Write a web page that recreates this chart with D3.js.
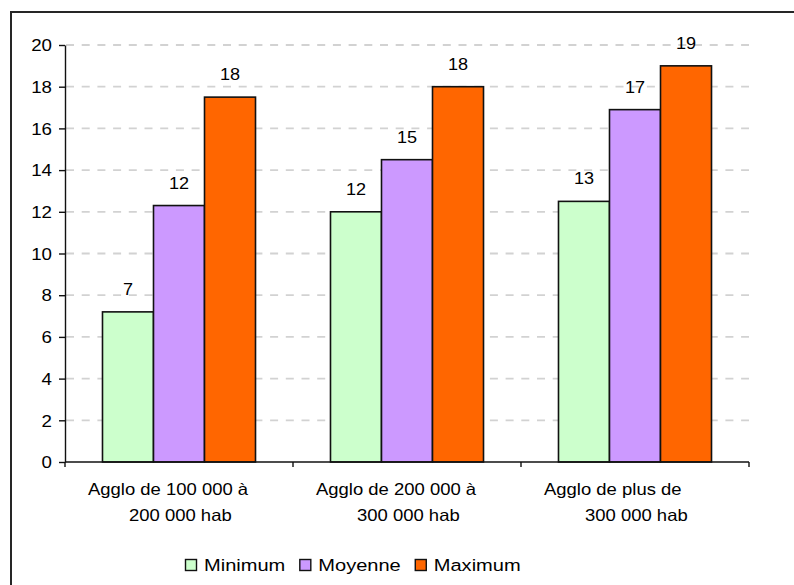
<!DOCTYPE html>
<html>
<head>
<meta charset="utf-8">
<script src="https://cdn.jsdelivr.net/npm/d3@7"></script>
<style>
  html, body { margin: 0; padding: 0; background: #fff; }
  svg { display: block; }
  text { font-family: "Liberation Sans", Arial, sans-serif; fill: #000; }
</style>
</head>
<body>
<svg id="chart" width="794" height="585"></svg>
<script>
// Categories (each label split on its line break)
const categories = ["g1", "g2", "g3"];
const categoryLines = [
  ["Agglo de 100 000 à", "200 000 hab"],
  ["Agglo de 200 000 à", "300 000 hab"],
  ["Agglo de plus de", "300 000 hab"]
];

// Series
const seriesNames = ["Minimum", "Moyenne", "Maximum"];
const minimumValues = [7.2, 12.0, 12.5];
const moyenneValues = [12.3, 14.5, 16.9];
const maximumValues = [17.5, 18.0, 19.0];
const seriesColors = ["#CCFFCC", "#CC99FF", "#FF6600"];

// Y axis ticks
const yTicks = [0, 2, 4, 6, 8, 10, 12, 14, 16, 18, 20];

const seriesValues = [minimumValues, moyenneValues, maximumValues];

const svg = d3.select("#chart");
const W = 794, H = 585;
const plot = { left: 65, right: 749, top: 45, bottom: 462 };

// Outer frame (runs past the right and bottom edges)
svg.append("rect")
  .attr("x", 11).attr("y", 12)
  .attr("width", W + 20).attr("height", H + 20)
  .attr("fill", "#fff")
  .attr("stroke", "#262626")
  .attr("stroke-width", 2);

const y = d3.scaleLinear().domain([0, 20]).range([plot.bottom, plot.top]);
const x = d3.scaleBand().domain(categories).range([plot.left, plot.right])
  .paddingInner(0).paddingOuter(0);
const xSub = d3.scaleBand().domain(seriesNames).range([0, x.bandwidth()])
  .paddingInner(0).paddingOuter(0.735);

// Dashed gridlines
svg.append("g")
  .selectAll("line")
  .data(yTicks.filter(t => t > 0))
  .join("line")
  .attr("x1", plot.left + 1).attr("x2", plot.right)
  .attr("y1", d => y(d)).attr("y2", d => y(d))
  .attr("stroke", "#d2d2d2")
  .attr("stroke-width", 1.8)
  .attr("stroke-dasharray", "8,7.7");

// Bars
const barData = [];
categories.forEach((c, i) => {
  seriesNames.forEach((s, j) => {
    barData.push({ cat: c, series: s, value: seriesValues[j][i], color: seriesColors[j] });
  });
});

const bars = svg.append("g");
bars.selectAll("rect")
  .data(barData)
  .join("rect")
  .attr("x", d => x(d.cat) + xSub(d.series))
  .attr("y", d => y(d.value))
  .attr("width", xSub.bandwidth())
  .attr("height", d => y(0) - y(d.value))
  .attr("fill", d => d.color)
  .attr("stroke", "#111")
  .attr("stroke-width", 1.6);

// Value labels above bars
bars.selectAll("text")
  .data(barData)
  .join("text")
  .attr("text-anchor", "middle")
  .attr("font-size", 16)
  .attr("transform", d =>
    `translate(${x(d.cat) + xSub(d.series) + xSub.bandwidth() / 2},${y(d.value) - 17}) scale(1.13,1)`)
  .text(d => d3.format(".0f")(Math.round(d.value)));

// Y axis
const yAxis = svg.append("g")
  .attr("transform", `translate(${plot.left},0)`)
  .call(d3.axisLeft(y).tickValues(yTicks).tickSize(6).tickSizeOuter(0));
yAxis.select(".domain").attr("stroke", "#111").attr("stroke-width", 1.4);
yAxis.selectAll(".tick line").attr("stroke", "#111").attr("stroke-width", 1.4);
yAxis.selectAll(".tick text")
  .attr("x", null).attr("dy", "0.36em")
  .attr("font-size", 16)
  .attr("font-family", null)
  .attr("fill", "#000")
  .attr("transform", "translate(-13,0) scale(1.17,1)");

// X axis line with ticks at category boundaries
const xAxisG = svg.append("g");
xAxisG.append("line")
  .attr("x1", plot.left).attr("x2", plot.right)
  .attr("y1", plot.bottom).attr("y2", plot.bottom)
  .attr("stroke", "#111").attr("stroke-width", 1.6);
const boundaries = categories.map(c => x(c)).concat([plot.right]);
xAxisG.selectAll("line.tick")
  .data(boundaries)
  .join("line")
  .attr("class", "tick")
  .attr("x1", d => d).attr("x2", d => d)
  .attr("y1", plot.bottom).attr("y2", plot.bottom + 5)
  .attr("stroke", "#111").attr("stroke-width", 1.4);

// Category labels (two lines each)
const catG = svg.append("g");
categories.forEach((c, i) => {
  const lines = categoryLines[i];
  catG.append("text")
    .attr("font-size", 16.5)
    .attr("transform", `translate(${x(c) + 23},495) scale(1.12,1)`)
    .text(lines[0]);
  catG.append("text")
    .attr("font-size", 16.5)
    .attr("transform", `translate(${x(c) + 64},521) scale(1.12,1)`)
    .text(lines[1]);
});

// Legend
const legend = svg.append("g");
let lx = 185;
seriesNames.forEach((s, j) => {
  legend.append("rect")
    .attr("x", lx + 0.5).attr("y", 559.5)
    .attr("width", 11).attr("height", 11)
    .attr("fill", seriesColors[j])
    .attr("stroke", "#111").attr("stroke-width", 1.4);
  const t = legend.append("text")
    .attr("font-size", 17)
    .attr("transform", `translate(${lx + 19},571) scale(1.18,1)`)
    .text(s);
  const w = t.node().getComputedTextLength() * 1.18;
  lx += 19 + w + 14;
});
</script>
</body>
</html>
